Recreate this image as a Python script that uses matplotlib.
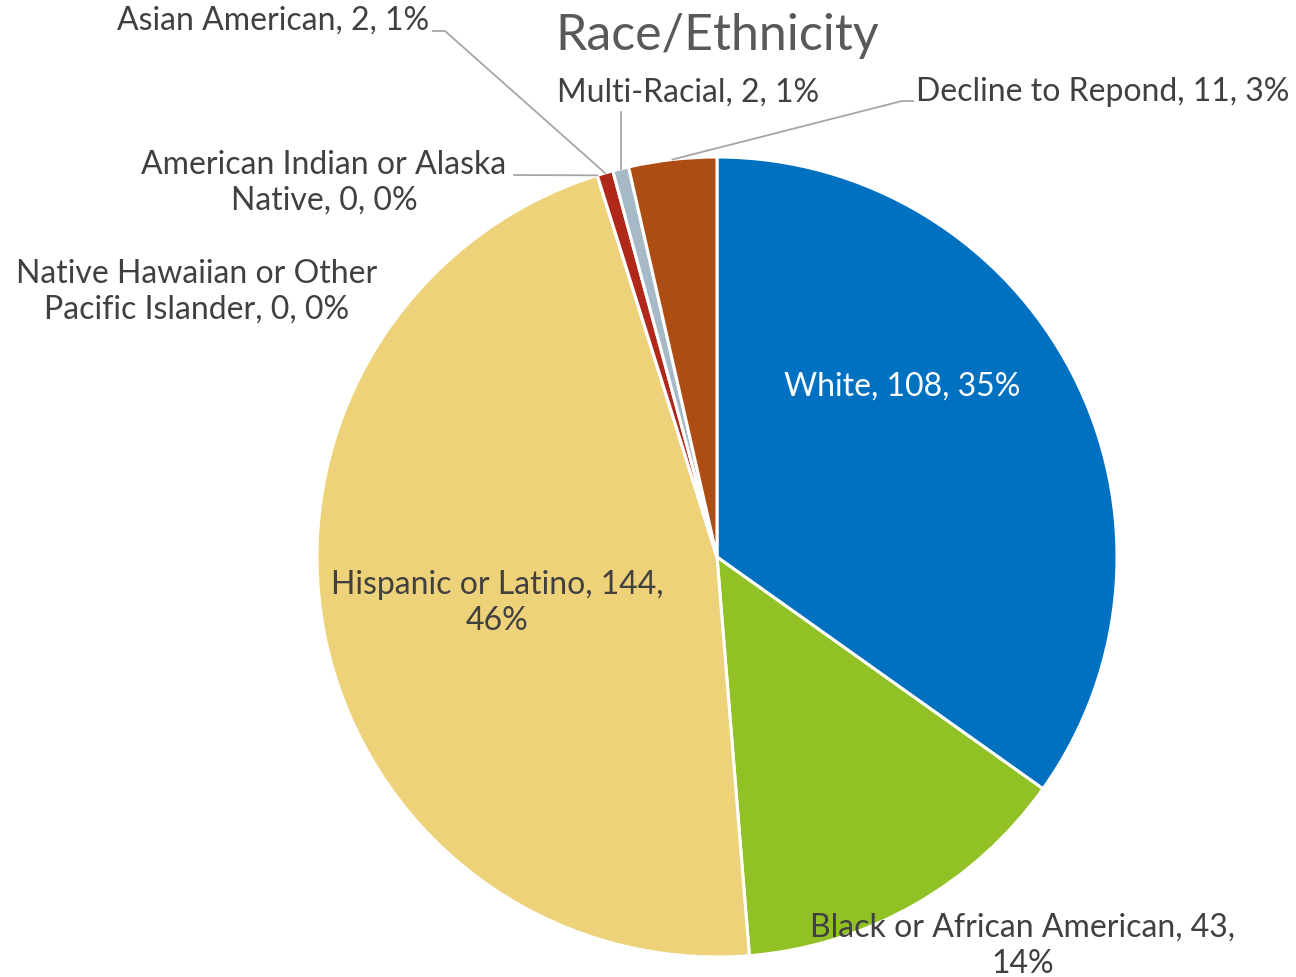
import numpy as np
import matplotlib
matplotlib.use("Agg")
import matplotlib.pyplot as plt

plt.rcParams['font.family'] = ['Lato', 'DejaVu Sans']

# data
categories = ["White", "Black or African American", "Hispanic or Latino",
              "Native Hawaiian or Other\nPacific Islander",
              "American Indian or Alaska\nNative", "Asian American",
              "Multi-Racial", "Decline to Repond"]
counts = [108, 43, 144, 0, 0, 2, 2, 11]
pct_labels = ["35%", "14%", "46%", "0%", "0%", "1%", "1%", "3%"]
colors = ["#0070C0", "#92C125", "#EDD27A", "#7F7F7F", "#7F7F7F",
          "#B0281A", "#A5BAC6", "#AE4D13"]

W, H = 1296, 977
CX, CY, R = 717, 557, 400  # pie centre and radius in pixels


def px(x, y):
    # pixel position -> data coords (pie radius = 1)
    return (x - CX) / R, (CY - y) / R


fig = plt.figure(figsize=(W / 100, H / 100), dpi=100)
ax = fig.add_axes([0, 0, 1, 1])
wedges, _ = ax.pie(counts, colors=colors, startangle=90, counterclock=False,
                   radius=1, wedgeprops=dict(edgecolor="white", linewidth=2.2))
ax.set_xlim(-CX / R, (W - CX) / R)
ax.set_ylim(-(H - CY) / R, CY / R)
ax.axis("off")

txt = "#404040"
fs = 23
ls = 1.25
line_c = "#A6A6A6"


def mid_point(i, r=1.0):
    w = wedges[i]
    a = np.deg2rad((w.theta1 + w.theta2) / 2)
    return r * np.cos(a), r * np.sin(a)


# inside labels
x, y = px(902, 387)
ax.text(x, y, f"{categories[0]}, {counts[0]}, {pct_labels[0]}", color="white",
        fontsize=fs, ha="center", va="center")
x, y = px(497, 603)
ax.text(x, y, f"{categories[2]}, {counts[2]},\n{pct_labels[2]}", color=txt,
        fontsize=fs, ha="center", va="center", linespacing=ls)
x, y = px(1023, 946)
ax.text(x, y, f"{categories[1]}, {counts[1]},\n{pct_labels[1]}", color=txt,
        fontsize=fs, ha="center", va="center", linespacing=ls)

# outside labels
x, y = px(197, 292)
ax.text(x, y, f"{categories[3]}, {counts[3]}, {pct_labels[3]}", color=txt,
        fontsize=fs, ha="center", va="center", linespacing=ls)
x, y = px(324, 183)
ax.text(x, y, f"{categories[4]}, {counts[4]}, {pct_labels[4]}", color=txt,
        fontsize=fs, ha="center", va="center", linespacing=ls)
x, y = px(429, 21)
ax.text(x, y, f"{categories[5]}, {counts[5]}, {pct_labels[5]}", color=txt,
        fontsize=fs, ha="right", va="center")
x, y = px(557, 93)
ax.text(x, y, f"{categories[6]}, {counts[6]}, {pct_labels[6]}", color=txt,
        fontsize=fs, ha="left", va="center")
x, y = px(916, 92)
ax.text(x, y, f"{categories[7]}, {counts[7]}, {pct_labels[7]}", color=txt,
        fontsize=fs, ha="left", va="center")

# leader lines
lw = 1.3
mx, my = mid_point(4)
p0 = px(514, 175)
ax.plot([p0[0], mx], [p0[1], my], color=line_c, lw=lw)

mx, my = mid_point(5)
p0, p1 = px(433, 31), px(445, 31)
ax.plot([p0[0], p1[0], mx], [p0[1], p1[1], my], color=line_c, lw=lw)

mx, my = mid_point(6)
p0 = px(620, 112)
ax.plot([mx, mx], [p0[1], my], color=line_c, lw=lw)

mx, my = mid_point(7)
p0, p1 = px(913, 101), px(902, 101)
ax.plot([p0[0], p1[0], mx], [p0[1], p1[1], my], color=line_c, lw=lw)

x, y = px(717, 36)
ax.text(x, y, "Race/Ethnicity", color="#595959", fontsize=36,
        ha="center", va="center")

fig.savefig("out.png", dpi=100)
